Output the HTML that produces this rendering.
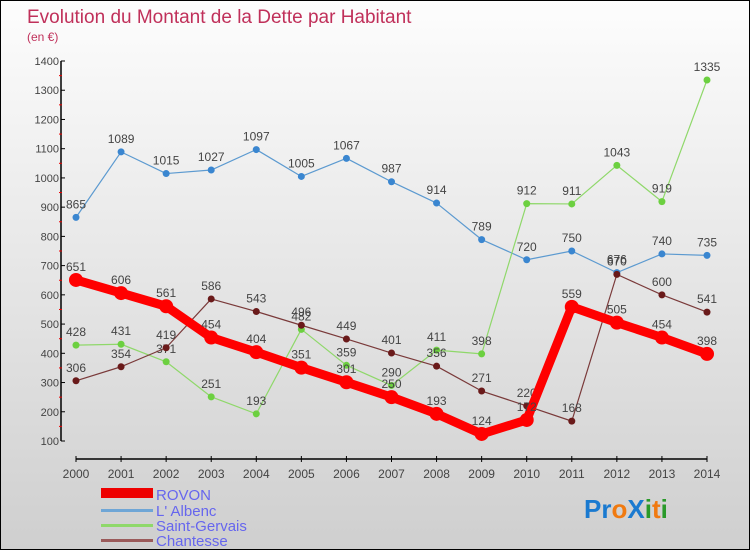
<!DOCTYPE html>
<html><head><meta charset="utf-8"><style>
body{margin:0}
#c{width:748px;height:548px;border:1px solid #000;background:linear-gradient(#fdfdfd,#cfcfcf);position:relative;overflow:hidden;font-family:"Liberation Sans",sans-serif}
</style></head><body>
<div id="c">
<svg id="s" width="748" height="548" xmlns="http://www.w3.org/2000/svg">
<text x="26" y="22" font-size="19" fill="#c0305a">Evolution du Montant de la Dette par Habitant</text>
<text x="26" y="40" font-size="12" fill="#c0305a">(en €)</text>
<g id="axes"></g><g id="series"></g>
<g font-size="15" fill="#6666ee">
<rect x="100" y="487" width="52" height="10" fill="#e00"/>
<text x="155" y="499">ROVON</text>
<rect x="100" y="508" width="52" height="3" fill="#6fa6d6"/>
<text x="155" y="515">L' Albenc</text>
<rect x="100" y="523" width="52" height="3" fill="#8fd86a"/>
<text x="155" y="530">Saint-Gervais</text>
<rect x="100" y="538" width="52" height="3" fill="#9a5a5a"/>
<text x="155" y="545">Chantesse</text>
</g>
<text x="583" y="517" font-size="26" font-weight="bold"><tspan fill="#1a7ad0">Pr</tspan><tspan fill="#f07a10">o</tspan><tspan fill="#1a7ad0">X</tspan><tspan fill="#2a9a2a">i</tspan><tspan fill="#f07a10">t</tspan><tspan fill="#2a9a2a">i</tspan></text>
</svg></div>
<script>
const years=[2000,2001,2002,2003,2004,2005,2006,2007,2008,2009,2010,2011,2012,2013,2014];
const rovon=[651,606,561,454,404,351,301,250,193,124,172,559,505,454,398];
const albenc=[865,1089,1015,1027,1097,1005,1067,987,914,789,720,750,676,740,735];
const saintGervais=[428,431,371,251,193,482,359,290,411,398,912,911,1043,919,1335];
const chantesse=[306,354,419,586,543,496,449,401,356,271,220,168,670,600,541];
const yTicks=[100,200,300,400,500,600,700,800,900,1000,1100,1200,1300,1400];
const NS="http://www.w3.org/2000/svg";
const X=i=>75+i*(706-75)/(years.length-1);
const Y=v=>440-(v-100)*380/1300;
function mk(t,a,p){const e=document.createElementNS(NS,t);for(const k in a)e.setAttribute(k,a[k]);p.appendChild(e);return e;}
const ax=document.getElementById('axes');
let yl=mk('line',{x1:60,y1:60,x2:60,y2:440,stroke:'#000','stroke-width':1.5},ax);


yTicks.forEach((t,i)=>{
 mk('line',{x1:60,x2:64,y1:Y(t),y2:Y(t),stroke:'#000'},ax);
 if(i<yTicks.length-1)mk('line',{x1:58,x2:61,y1:Y(t+50),y2:Y(t+50),stroke:'#e00'},ax);
 const tx=mk('text',{x:58,y:Y(t)+4,'font-size':11,fill:'#444','text-anchor':'end'},ax);tx.textContent=t;
 
 
});
let xl=mk('line',{x1:75,y1:458,x2:706,y2:458,stroke:'#000','stroke-width':1.5},ax);


years.forEach((y,i)=>{
 mk('line',{x1:X(i),x2:X(i),y1:455,y2:461,stroke:'#000'},ax);
 const tx=mk('text',{x:X(i),y:477,'font-size':12,fill:'#444','text-anchor':'middle'},ax);tx.textContent=y;
 
 
});
const sg=document.getElementById('series');
function draw(data,name,color,w,r,dot){
 const g=mk('g',{},sg);
 
 
 const l=mk('polyline',{points:data.map((v,i)=>X(i)+','+Y(v)).join(' '),fill:'none',stroke:color,'stroke-width':w,'stroke-linejoin':'round'},g);
 
 
 data.forEach((v,i)=>{
  const c=mk('circle',{cx:X(i),cy:Y(v),r:r,fill:dot},g);
  
  
  const t=mk('text',{x:X(i),y:Y(v)-9,'font-size':12,fill:'#444','text-anchor':'middle'},g);t.textContent=v;
  
  
 });
}
draw(albenc,'albenc','#5c9ad0',1.2,3.5,'#3a86d0');
draw(saintGervais,'saint-gervais','#8fd86a',1.2,3.5,'#6cd040');
draw(chantesse,'chantesse','#7a3a3a',1.2,3.5,'#6a1a1a');
draw(rovon,'rovon','#f00',9,7,'#f00');
</script>
</body></html>
